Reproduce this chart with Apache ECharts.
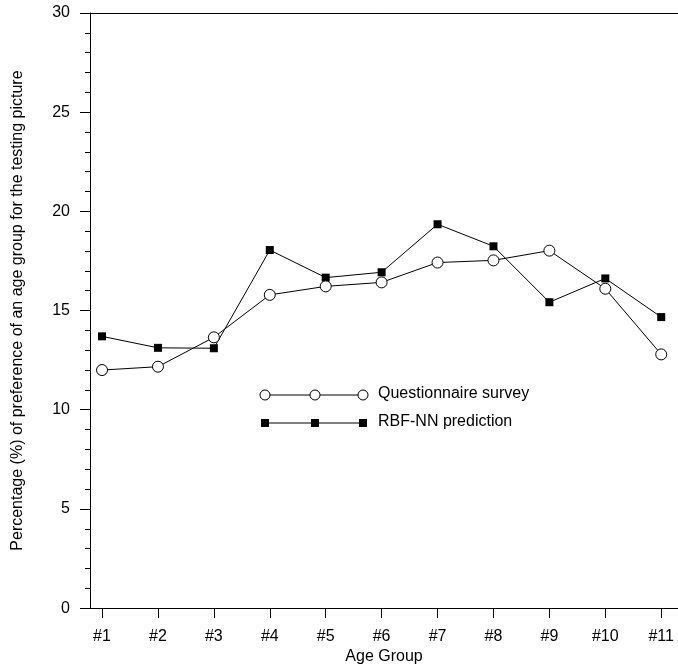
<!DOCTYPE html>
<html>
<head>
    <meta charset="utf-8">
    <title>Age group preference</title>
    <style>
        html, body { margin: 0; padding: 0; background: #fff; }
        #chart { width: 678px; height: 670px; }
    </style>
</head>
<body>
    <div id="chart"></div>

    <script src="https://cdn.jsdelivr.net/npm/echarts@6/dist/echarts.min.js"></script>
    <script type="text/javascript">

    // data
    var ageGroups = [1, 2, 3, 4, 5, 6, 7, 8, 9, 10, 11];
    var survey = [12.0, 12.17, 13.65, 15.79, 16.22, 16.42, 17.42, 17.53, 18.02, 16.1, 12.79];
    var rbfnn = [13.7, 13.12, 13.1, 18.05, 16.66, 16.93, 19.35, 18.24, 15.42, 16.62, 14.67];

    var font = '"Liberation Sans", Arial, sans-serif';
    var fs = 16;

    function pairs(vals) {
        return ageGroups.map(function (g, i) { return [g, vals[i]]; });
    }

    var myChart = echarts.init(document.getElementById('chart'), null, { renderer: 'canvas' });

    // legend drawn by hand: line with three markers like the original
    var lgX = [265, 315, 363];
    var legendGraphics = [
        { type: 'line', shape: { x1: lgX[0], y1: 395, x2: lgX[2], y2: 395 }, style: { stroke: '#000', lineWidth: 1 } },
        { type: 'line', shape: { x1: lgX[0], y1: 423, x2: lgX[2], y2: 423 }, style: { stroke: '#000', lineWidth: 1 } },
        { type: 'text', left: 378, top: 386, style: { text: 'Questionnaire survey', font: fs + 'px ' + font, fill: '#000' } },
        { type: 'text', left: 378, top: 414, style: { text: 'RBF-NN prediction', font: fs + 'px ' + font, fill: '#000' } }
    ];
    lgX.forEach(function (x) {
        legendGraphics.push({ type: 'circle', shape: { cx: x, cy: 395, r: 5 }, style: { fill: '#fff', stroke: '#000', lineWidth: 1 }, z: 10 });
        legendGraphics.push({ type: 'rect', shape: { x: x - 4, y: 419, width: 8, height: 8 }, style: { fill: '#000' }, z: 10 });
    });

    myChart.setOption({
        animation: false,
        backgroundColor: '#fff',
        textStyle: { fontFamily: font, color: '#000' },
        grid: { left: 90, right: 0, top: 13, bottom: 58, containLabel: false },
        xAxis: [
            {
                type: 'value',
                position: 'bottom',
                min: 0.785,
                max: 11.3,
                name: 'Age Group',
                nameLocation: 'middle',
                nameGap: 40,
                nameTextStyle: { fontSize: fs, color: '#000', fontFamily: font },
                axisLine: { show: true, onZero: false, lineStyle: { color: '#000', width: 1 } },
                axisTick: { show: true, length: 10, customValues: ageGroups, lineStyle: { color: '#000' } },
                axisLabel: {
                    customValues: ageGroups,
                    margin: 20,
                    fontSize: fs,
                    color: '#000',
                    fontFamily: font,
                    formatter: function (v) { return '#' + v; }
                },
                splitLine: { show: false }
            },
            {
                type: 'value',
                position: 'top',
                min: 0.785,
                max: 11.3,
                axisLine: { show: true, onZero: false, lineStyle: { color: '#000', width: 1 } },
                axisTick: { show: false },
                axisLabel: { show: false },
                splitLine: { show: false }
            }
        ],
        yAxis: {
            type: 'value',
            min: 0,
            max: 30,
            interval: 5,
            name: 'Percentage (%) of preference of an age group for the testing picture',
            nameLocation: 'middle',
            nameGap: 64,
            nameTextStyle: { fontSize: fs, color: '#000', fontFamily: font },
            axisLine: { show: true, onZero: false, lineStyle: { color: '#000', width: 1 } },
            axisTick: { show: true, length: 10, lineStyle: { color: '#000' } },
            minorTick: { show: true, splitNumber: 5, length: 5, lineStyle: { color: '#000' } },
            axisLabel: {
                margin: 20,
                fontSize: fs,
                color: '#000',
                fontFamily: font
            },
            splitLine: { show: false }
        },
        series: [
            {
                name: 'RBF-NN prediction',
                type: 'line',
                data: pairs(rbfnn),
                symbol: 'rect',
                symbolSize: 8,
                lineStyle: { color: '#000', width: 1 },
                itemStyle: { color: '#000' },
                z: 2
            },
            {
                name: 'Questionnaire survey',
                type: 'line',
                data: pairs(survey),
                symbol: 'circle',
                symbolSize: 11,
                lineStyle: { color: '#000', width: 1 },
                itemStyle: { color: '#fff', borderColor: '#000', borderWidth: 1 },
                z: 3
            }
        ],
        graphic: legendGraphics
    });

    </script>
</body>
</html>
